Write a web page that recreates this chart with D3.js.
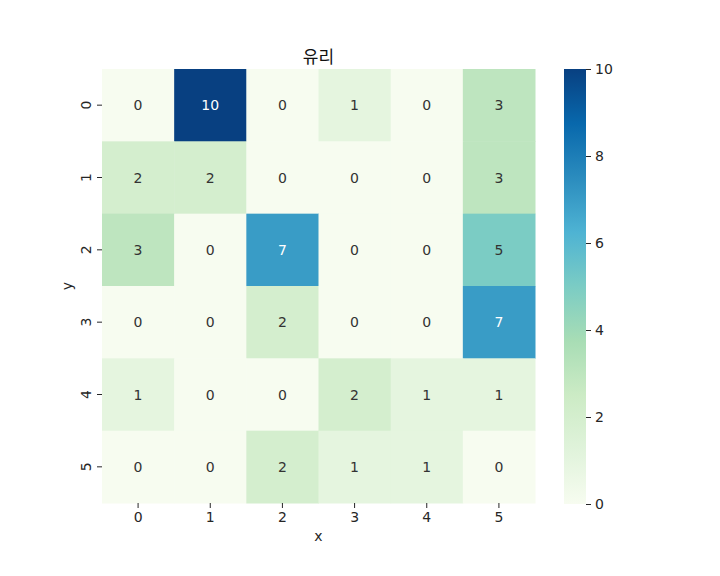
<!DOCTYPE html>
<html lang="ko">
<head>
<meta charset="UTF-8">
<title>유리</title>
<script src="https://d3js.org/d3.v7.min.js"></script>
<style>
    body { margin: 0; background: #ffffff; }
    text { font-family: "DejaVu Sans", "Noto Sans CJK KR", sans-serif; }
</style>
</head>
<body>
<svg id="chart" width="720" height="576"></svg>
<script>
    const title = "유리";
    const xLabels = ["0", "1", "2", "3", "4", "5"];
    const yLabels = ["0", "1", "2", "3", "4", "5"];
    // rows = y, columns = x
    const counts = [
        [0, 10, 0, 1, 0, 3],
        [2, 2, 0, 0, 0, 3],
        [3, 0, 7, 0, 0, 5],
        [0, 0, 2, 0, 0, 7],
        [1, 0, 0, 2, 1, 1],
        [0, 0, 2, 1, 1, 0]
    ];
    const colorTicks = [0, 2, 4, 6, 8, 10];

    const svg = d3.select("#chart");
    const plot = { left: 102, top: 69, width: 433, height: 434 };
    const numFont = '"DejaVu Sans", sans-serif';
    const fs = 14;

    // matplotlib GnBu (linear between the colorbrewer stops)
    const gnbu = ["#f7fcf0", "#e0f3db", "#ccebc5", "#a8ddb5", "#7bccc4",
        "#4eb3d3", "#2b8cbe", "#0868ac", "#084081"];
    const color = d3.scaleLinear()
        .domain(d3.range(gnbu.length).map(i => i * 10 / (gnbu.length - 1)))
        .range(gnbu)
        .interpolate(d3.interpolateRgb);

    const x = d3.scaleBand().domain(xLabels).range([plot.left, plot.left + plot.width]);
    const y = d3.scaleBand().domain(yLabels).range([plot.top, plot.top + plot.height]);

    const cells = [];
    counts.forEach((row, i) => row.forEach((v, j) => cells.push({ x: xLabels[j], y: yLabels[i], v: v })));

    svg.append("g").selectAll("rect")
        .data(cells)
        .join("rect")
        .attr("x", d => x(d.x))
        .attr("y", d => y(d.y))
        .attr("width", x.bandwidth() + 0.5)
        .attr("height", y.bandwidth() + 0.5)
        .attr("fill", d => color(d.v));

    function lum(c) {
        const rgb = d3.rgb(c);
        const f = v => { v /= 255; return v <= 0.03928 ? v / 12.92 : Math.pow((v + 0.055) / 1.055, 2.4); };
        return 0.2126 * f(rgb.r) + 0.7152 * f(rgb.g) + 0.0722 * f(rgb.b);
    }

    svg.append("g").selectAll("text")
        .data(cells)
        .join("text")
        .attr("x", d => x(d.x) + x.bandwidth() / 2)
        .attr("y", d => y(d.y) + y.bandwidth() / 2)
        .attr("text-anchor", "middle")
        .attr("dominant-baseline", "central")
        .attr("font-size", fs)
        .attr("fill", d => lum(color(d.v)) > 0.408 ? "#333333" : "#ffffff")
        .text(d => d.v);

    // x axis
    const xAxis = svg.append("g")
        .attr("transform", `translate(0,${plot.top + plot.height})`)
        .call(d3.axisBottom(x).tickSize(5).tickPadding(4));
    xAxis.select(".domain").remove();
    xAxis.selectAll("text").attr("font-size", fs).attr("fill", "#262626").style("font-family", numFont);
    xAxis.selectAll("line").attr("stroke", "#262626");

    // y axis, labels rotated
    const yAxis = svg.append("g")
        .attr("transform", `translate(${plot.left},0)`)
        .call(d3.axisLeft(y).tickSize(5).tickPadding(4));
    yAxis.select(".domain").remove();
    yAxis.selectAll("line").attr("stroke", "#262626");
    yAxis.selectAll("text")
        .attr("font-size", fs).attr("fill", "#262626")
        .style("font-family", numFont)
        .attr("x", null).attr("dy", null)
        .attr("text-anchor", "middle")
        .attr("dominant-baseline", "central")
        .attr("transform", "translate(-16,0) rotate(-90)");

    svg.append("text")
        .attr("x", plot.left + plot.width / 2).attr("y", 541)
        .attr("text-anchor", "middle").attr("font-size", fs).attr("fill", "#262626")
        .text("x");
    svg.append("text")
        .attr("transform", `translate(72,${plot.top + plot.height / 2}) rotate(-90)`)
        .attr("text-anchor", "middle").attr("font-size", fs).attr("fill", "#262626")
        .text("y");
    svg.append("text")
        .attr("x", plot.left + plot.width / 2).attr("y", 63)
        .attr("text-anchor", "middle").attr("font-size", 17).attr("fill", "#111111")
        .style("font-family", '"Noto Sans CJK KR", sans-serif')
        .text(title);

    // colorbar
    const cb = { left: 564, top: 69, width: 22, height: 435 };
    const cScale = d3.scaleLinear().domain([0, 10]).range([cb.top + cb.height, cb.top]);
    const grad = svg.append("defs").append("linearGradient")
        .attr("id", "cbgrad").attr("x1", 0).attr("y1", 1).attr("x2", 0).attr("y2", 0);
    grad.selectAll("stop")
        .data(color.domain())
        .join("stop")
        .attr("offset", d => d / 10)
        .attr("stop-color", d => color(d));
    svg.append("rect")
        .attr("x", cb.left).attr("y", cb.top)
        .attr("width", cb.width).attr("height", cb.height)
        .attr("fill", "url(#cbgrad)");
    const cAxis = svg.append("g")
        .attr("transform", `translate(${cb.left + cb.width},0)`)
        .call(d3.axisRight(cScale).tickValues(colorTicks).tickSize(5).tickPadding(4));
    cAxis.select(".domain").remove();
    cAxis.selectAll("line").attr("stroke", "#262626");
    cAxis.selectAll("text").attr("font-size", fs).attr("fill", "#262626").style("font-family", numFont);
</script>
</body>
</html>
